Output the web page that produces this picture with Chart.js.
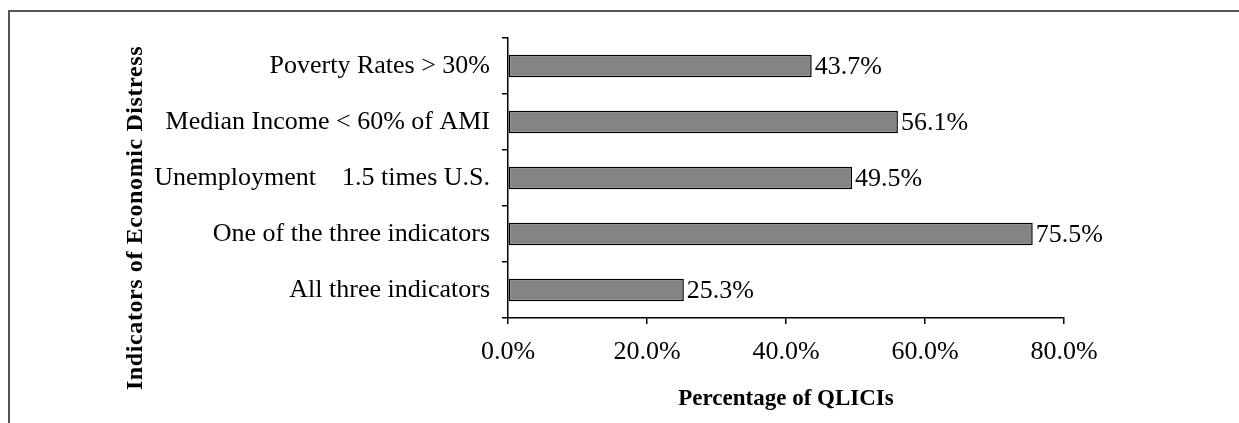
<!DOCTYPE html>
<html>
<head>
<meta charset="utf-8">
<script src="https://cdn.jsdelivr.net/npm/chart.js@4/dist/chart.umd.min.js"></script>
<style>
  html, body { margin: 0; padding: 0; background: #fff; }
  #wrap { position: relative; width: 1239px; height: 423px; overflow: hidden; }
  #frame { position: absolute; left: 8px; top: 10px; width: 1300px; height: 500px;
           border-top: 2px solid #555; border-left: 2px solid #555; }
  canvas { position: absolute; left: 0; top: 0; }
</style>
</head>
<body>
<div id="wrap">
  <div id="frame"></div>
  <canvas id="myChart" width="1239" height="423"></canvas>
</div>
<script>
// chart data
const categories = [
  'Poverty Rates > 30%',
  'Median Income < 60% of AMI',
  'Unemployment    1.5 times U.S.',
  'One of the three indicators',
  'All three indicators'
];
const percentValues = [43.7, 56.1, 49.5, 75.5, 25.3];
const xTickValues = [0, 20, 40, 60, 80];
const xTitle = 'Percentage of QLICIs';
const yTitle = 'Indicators of Economic Distress';

const serif = "'Liberation Serif', 'Times New Roman', serif";

// value labels at the end of each bar
const barLabels = {
  id: 'barLabels',
  afterDatasetsDraw(chart) {
    const ctx = chart.ctx;
    const meta = chart.getDatasetMeta(0);
    ctx.save();
    ctx.font = '26px ' + serif;
    ctx.fillStyle = '#000';
    ctx.textAlign = 'left';
    ctx.textBaseline = 'middle';
    meta.data.forEach((bar, i) => {
      ctx.fillText(percentValues[i].toFixed(1) + '%', bar.x + 3, bar.y + 1);
    });
    ctx.restore();
  }
};

// y axis title (sits lower than the axis centre in the original)
const yAxisTitle = {
  id: 'yAxisTitle',
  afterDraw(chart) {
    const ctx = chart.ctx;
    const area = chart.chartArea;
    ctx.save();
    ctx.font = 'bold 24px ' + serif;
    ctx.fillStyle = '#000';
    ctx.textAlign = 'center';
    ctx.textBaseline = 'middle';
    ctx.translate(136, (area.top + area.bottom) / 2 + 40);
    ctx.rotate(-Math.PI / 2);
    ctx.letterSpacing = '0.6px';
    ctx.fillText(yTitle, 0, 0);
    ctx.restore();
  }
};

const data = {
  labels: categories,
  datasets: [{
    data: percentValues,
    backgroundColor: '#848484',
    borderColor: '#000',
    borderWidth: 1.5,
    borderSkipped: false,
    barPercentage: 0.4,
    categoryPercentage: 1.0
  }]
};

const config = {
  type: 'bar',
  data: data,
  options: {
    indexAxis: 'y',
    responsive: false,
    animation: false,
    layout: { padding: { left: 0, right: 175, top: 38, bottom: 0 } },
    plugins: {
      legend: { display: false },
      tooltip: { enabled: false }
    },
    scales: {
      x: {
        min: 0,
        max: 80,
        afterBuildTicks(scale) {
          scale.ticks = xTickValues.map(v => ({ value: v }));
        },
        afterFit(scale) { scale.height = 105; },
        ticks: {
          callback: v => v.toFixed(1) + '%',
          font: { family: serif, size: 26 },
          color: '#000',
          padding: 13,
          maxRotation: 0
        },
        grid: { drawOnChartArea: false, drawTicks: true, tickLength: 6, color: '#000', lineWidth: 1.5 },
        border: { color: '#000', width: 1.5 },
        title: {
          display: true,
          text: xTitle,
          font: { family: serif, size: 23, weight: 'bold' },
          color: '#000',
          padding: { top: 0, bottom: 10 }
        }
      },
      y: {
        afterFit(scale) { scale.width = 508; },
        ticks: {
          font: { family: serif, size: 26 },
          color: '#000',
          padding: 12
        },
        grid: { offset: true, drawOnChartArea: false, drawTicks: true, tickLength: 6, color: '#000', lineWidth: 1.5 },
        border: { color: '#000', width: 1.5 }
      }
    }
  },
  plugins: [barLabels, yAxisTitle]
};

const myChart = new Chart(document.getElementById('myChart'), config);
</script>
</body>
</html>
